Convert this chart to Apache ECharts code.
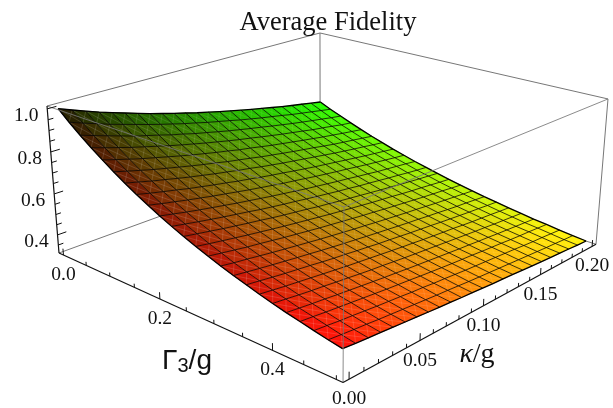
<!DOCTYPE html>
<html>
<head>
<meta charset="utf-8">
<style>html,body{margin:0;padding:0;background:#fff}#chart{width:613px;height:408px}</style>
<script src="https://cdn.jsdelivr.net/npm/echarts@6/dist/echarts.min.js"></script>
</head>
<body>
<div id="chart"></div>
<script>
const gammaGrid = [0,0.0217,0.0435,0.0652,0.087,0.1087,0.1304,0.1522,0.1739,0.1957,0.2174,0.2391,0.2609,0.2826,0.3043,0.3261,0.3478,0.3696,0.3913,0.413,0.4348,0.4565,0.4783,0.5];
const kappaGrid = [0,0.0087,0.0174,0.0261,0.0348,0.0435,0.0522,0.0609,0.0696,0.0783,0.087,0.0957,0.1043,0.113,0.1217,0.1304,0.1391,0.1478,0.1565,0.1652,0.1739,0.1826,0.1913,0.2];

// one row per gammaGrid entry, one column per kappaGrid entry
const fidelity = [
  [1.000,.977,.955,.933,.913,.894,.875,.857,.840,.823,.808,.792,.778,.764,.750,.737,.724,.712,.700,.688,.677,.667,.656,.646],
  [.954,.932,.912,.891,.873,.855,.837,.820,.804,.788,.774,.759,.746,.733,.719,.707,.695,.684,.673,.661,.651,.641,.631,.621],
  [.911,.891,.872,.853,.834,.818,.802,.785,.771,.755,.742,.728,.715,.703,.691,.680,.668,.657,.646,.636,.626,.617,.607,.599],
  [.871,.852,.834,.816,.800,.784,.768,.753,.739,.725,.712,.699,.687,.676,.664,.653,.642,.632,.622,.611,.603,.594,.584,.577],
  [.833,.815,.798,.781,.766,.751,.736,.722,.709,.696,.684,.671,.661,.649,.638,.628,.618,.608,.599,.589,.581,.572,.564,.556],
  [.797,.780,.764,.748,.734,.720,.706,.693,.681,.668,.657,.646,.634,.624,.614,.604,.595,.586,.576,.567,.559,.552,.544,.536],
  [.764,.749,.733,.719,.705,.691,.679,.666,.655,.643,.633,.621,.611,.601,.592,.583,.574,.565,.556,.548,.540,.533,.525,.518],
  [.732,.717,.703,.690,.676,.664,.652,.641,.629,.619,.608,.598,.589,.579,.570,.561,.553,.545,.537,.529,.521,.514,.507,.500],
  [.703,.689,.676,.663,.651,.639,.628,.617,.606,.596,.586,.576,.568,.559,.550,.542,.534,.527,.519,.511,.504,.497,.490,.484],
  [.675,.662,.649,.637,.626,.615,.604,.594,.584,.574,.565,.556,.547,.539,.531,.523,.516,.508,.501,.493,.487,.481,.475,.468],
  [.649,.637,.625,.614,.603,.593,.583,.572,.563,.554,.546,.537,.529,.521,.513,.506,.498,.492,.485,.478,.472,.465,.459,.454],
  [.625,.614,.603,.592,.582,.572,.563,.553,.544,.536,.528,.519,.512,.504,.497,.490,.483,.476,.470,.463,.457,.451,.446,.440],
  [.602,.591,.581,.571,.561,.552,.543,.534,.526,.518,.510,.502,.495,.488,.481,.474,.468,.462,.455,.449,.444,.438,.432,.427],
  [.581,.571,.561,.551,.543,.534,.525,.517,.509,.501,.494,.487,.480,.473,.467,.460,.454,.448,.442,.436,.431,.426,.420,.415],
  [.560,.550,.542,.533,.524,.516,.508,.500,.492,.485,.478,.471,.465,.458,.452,.446,.440,.435,.429,.423,.418,.413,.408,.403],
  [.541,.532,.523,.515,.507,.499,.492,.484,.477,.470,.464,.457,.451,.445,.439,.433,.428,.422,.417,.411,.406,.402,.397,.392],
  [.524,.516,.507,.499,.492,.485,.477,.470,.464,.457,.451,.444,.439,.433,.427,.422,.417,.411,.406,.401,.396,.392,.387,.383],
  [.507,.499,.491,.484,.477,.470,.463,.456,.450,.444,.438,.432,.426,.421,.415,.410,.405,.401,.395,.390,.386,.382,.377,.373],
  [.491,.484,.476,.469,.463,.456,.450,.443,.437,.432,.426,.420,.415,.410,.405,.400,.395,.390,.385,.381,.376,.372,.368,.364],
  [.476,.469,.462,.456,.449,.443,.437,.431,.425,.420,.414,.409,.404,.399,.394,.389,.385,.380,.376,.371,.367,.363,.359,.355],
  [.463,.457,.450,.444,.438,.432,.426,.420,.415,.410,.404,.399,.394,.389,.385,.381,.376,.372,.368,.363,.359,.356,.352,.348],
  [.450,.444,.437,.432,.426,.420,.415,.410,.404,.400,.394,.390,.385,.380,.376,.372,.368,.364,.360,.355,.351,.348,.344,.340],
  [.437,.431,.425,.420,.414,.409,.404,.399,.394,.389,.385,.380,.375,.371,.367,.363,.359,.355,.351,.347,.343,.340,.336,.333],
  [.426,.420,.415,.410,.405,.400,.395,.390,.385,.381,.376,.372,.368,.363,.360,.356,.352,.348,.344,.340,.337,.334,.330,.327]
];

const gammaTicks = [0,0.05,0.1,0.15,0.2,0.25,0.3,0.35,0.4,0.45,0.5];
const gammaLabels = ["0.0","0.2","0.4"];
const kappaTicks = [0,0.01,0.02,0.03,0.04,0.05,0.06,0.07,0.08,0.09,0.1,0.11,0.12,0.13,0.14,0.15,0.16,0.17,0.18,0.19,0.2];
const kappaLabels = ["0.00","0.05","0.10","0.15","0.20"];
const zTicks = [0.35,0.4,0.45,0.5,0.55,0.6,0.65,0.7,0.75,0.8,0.85,0.9,0.95,1.0];
const zLabels = ["0.4","0.6","0.8","1.0"];

// plot box, a little wider than the data
const gammaBox = [-0.01, 0.51];
const kappaBox = [-0.004, 0.204];
const zBox = [0.31, 1.013];

// perspective view of the unit box, fitted to the box corners
function toScreen(u, v, s) {
  const den = 1 - 0.1955 * u + 0.2104 * v + 0.045 * s;
  return [
    (47 + 229.75 * u + 340.3 * v + 14.66 * s) / den,
    (106 + 60.5 * u - 66.06 * v + 158.4 * s) / den
  ];
}

function project(gamma, kappa, z) {
  const u = (gamma - gammaBox[0]) / (gammaBox[1] - gammaBox[0]);
  const v = (kappa - kappaBox[0]) / (kappaBox[1] - kappaBox[0]);
  const s = (zBox[1] - z) / (zBox[1] - zBox[0]);
  return toScreen(u, v, s);
}

function cellFractions(i, j) {
  return [(gammaGrid[i] + gammaGrid[i + 1]) / 2 / 0.5, (kappaGrid[j] + kappaGrid[j + 1]) / 2 / 0.2];
}

function cellColor(i, j) {
  const [r, g] = cellFractions(i, j);
  const lift = 18 * Math.min(r, g) + 14 * r * (1 - g);
  return "rgb(" + Math.round(Math.min(255, 28 + 227 * Math.pow(r, 0.78) + lift)) + ","
    + Math.round(Math.min(255, 22 * (1 - 0.7 * r) + 233 * Math.pow(g, 0.78) + lift * 0.2)) + ","
    + Math.round(lift * 0.7) + ")";
}

const gMin = gammaBox[0], gMax = gammaBox[1], kMin = kappaBox[0], kMax = kappaBox[1], zMin = zBox[0], zMax = zBox[1];

const backEdges = [
  [gMin, kMax, zMax, gMin, kMax, zMin],
  [gMin, kMin, zMin, gMin, kMax, zMin],
  [gMax, kMax, zMin, gMin, kMax, zMin],
  [gMin, kMin, zMax, gMin, kMax, zMax],
  [gMin, kMax, zMax, gMax, kMax, zMax],
  [gMax, kMax, zMax, gMax, kMax, zMin]
];
const frontEdges = [
  [gMin, kMin, zMax, gMax, kMin, zMax],
  [gMax, kMin, zMax, gMax, kMax, zMax],
  [gMax, kMin, zMax, gMax, kMin, zMin]
];
const axisEdges = [
  [gMin, kMin, zMax, gMin, kMin, zMin],
  [gMin, kMin, zMin, gMax, kMin, zMin],
  [gMax, kMin, zMin, gMax, kMax, zMin]
];

function edgeSeries(edges, color, width, opacity) {
  return {
    type: "custom",
    coordinateSystem: "none",
    silent: true,
    animation: false,
    data: edges,
    renderItem: (params, api) => {
      const e = edges[params.dataIndex];
      const a = project(e[0], e[1], e[2]);
      const b = project(e[3], e[4], e[5]);
      return {
        type: "line",
        shape: { x1: a[0], y1: a[1], x2: b[0], y2: b[1] },
        style: { stroke: color, lineWidth: width, opacity: opacity }
      };
    }
  };
}

const cells = [];
for (let i = 0; i < gammaGrid.length - 1; i++) {
  for (let j = 0; j < kappaGrid.length - 1; j++) {
    cells.push([i, j]);
  }
}

const surfaceSeries = {
  type: "custom",
  coordinateSystem: "none",
  silent: true,
  animation: false,
  data: cells,
  renderItem: (params) => {
    const [i, j] = cells[params.dataIndex];
    const p = [
      project(gammaGrid[i], kappaGrid[j], fidelity[i][j]),
      project(gammaGrid[i + 1], kappaGrid[j], fidelity[i + 1][j]),
      project(gammaGrid[i + 1], kappaGrid[j + 1], fidelity[i + 1][j + 1]),
      project(gammaGrid[i], kappaGrid[j + 1], fidelity[i][j + 1])
    ];
    const fill = cellColor(i, j);
    // faint seams between the polygons, stronger on the red side
    const seam = "rgba(255,255,255," + (0.06 + 0.12 * (1 - cellFractions(i, j)[1])).toFixed(3) + ")";
    return {
      type: "group",
      children: [
        { type: "polygon", shape: { points: p }, style: { fill: fill, stroke: fill, lineWidth: 0.5 } },
        { type: "line", shape: { x1: p[0][0], y1: p[0][1], x2: p[2][0], y2: p[2][1] }, style: { stroke: seam, lineWidth: 0.8 } },
        { type: "line", shape: { x1: p[1][0], y1: p[1][1], x2: p[3][0], y2: p[3][1] }, style: { stroke: seam, lineWidth: 0.8 } }
      ]
    };
  }
};

// mesh lines, then the heavier outline of the surface
const meshLines = [];
gammaGrid.forEach((g, i) => {
  meshLines.push(kappaGrid.map((k, j) => project(g, k, fidelity[i][j])));
});
kappaGrid.forEach((k, j) => {
  meshLines.push(gammaGrid.map((g, i) => project(g, k, fidelity[i][j])));
});
const lastGamma = gammaGrid.length - 1;
const outlineIndex = [0, lastGamma, lastGamma + 1, lastGamma + kappaGrid.length];

const meshSeries = {
  type: "custom",
  coordinateSystem: "none",
  silent: true,
  animation: false,
  data: meshLines.map((l, n) => n),
  renderItem: (params) => {
    const n = params.dataIndex;
    const edge = outlineIndex.includes(n);
    return {
      type: "polyline",
      shape: { points: meshLines[n] },
      style: { fill: null, stroke: "#000", lineWidth: edge ? 1.3 : 0.85, opacity: edge ? 1 : 0.9 }
    };
  }
};

const tickItems = [];
gammaTicks.forEach((t, n) => {
  const len = n % 4 === 0 ? 0.045 : 0.025;
  tickItems.push([t, kMin, zMin, t, kMin, zMin + len * (zMax - zMin)]);
});
kappaTicks.forEach((t, n) => {
  const len = n % 5 === 0 ? 0.045 : 0.025;
  tickItems.push([gMax, t, zMin, gMax, t, zMin + len * (zMax - zMin)]);
});
zTicks.forEach((t, n) => {
  const len = (n + 1) % 4 === 2 ? 0.028 : 0.016;
  tickItems.push([gMin, kMin, t, gMin, kMin + len * (kMax - kMin), t]);
});

const labelItems = [];
gammaLabels.forEach((s) => {
  const p = project(+s, kMin, zMin);
  labelItems.push([s, p[0], p[1] + 20]);
});
kappaLabels.forEach((s) => {
  const p = project(gMax, +s, zMin);
  labelItems.push([s, p[0], p[1] + 20]);
});
zLabels.forEach((s) => {
  const p = project(gMin, kMin, +s);
  labelItems.push([s, p[0] - 21, p[1] + 7]);
});

const labelSeries = {
  type: "custom",
  coordinateSystem: "none",
  silent: true,
  animation: false,
  data: labelItems.map((l, n) => n),
  renderItem: (params) => {
    const l = labelItems[params.dataIndex];
    return {
      type: "text",
      style: {
        text: l[0], x: l[1], y: l[2], fill: "#111",
        font: '19.5px "Liberation Serif"', align: "center", verticalAlign: "middle"
      }
    };
  }
};

const axisNameSeries = {
  type: "custom",
  coordinateSystem: "none",
  silent: true,
  animation: false,
  data: [0, 1],
  renderItem: (params) => {
    if (params.dataIndex === 0) {
      return {
        type: "text",
        style: {
          text: "{a|Γ}{b|3}{a|/g}", x: 187, y: 361, align: "center", verticalAlign: "middle",
          rich: {
            a: { font: '28px "Liberation Sans"', fill: "#111" },
            b: { font: '20px "Liberation Sans"', fill: "#111", verticalAlign: "bottom", padding: [10, 0, 0, 0] }
          }
        }
      };
    }
    return {
      type: "text",
      style: {
        text: "{k|κ}{a|/g}", x: 477, y: 355, align: "center", verticalAlign: "middle",
        rich: {
          k: { font: 'italic 28px "Liberation Serif"', fill: "#111" },
          a: { font: '28px "Liberation Serif"', fill: "#111" }
        }
      }
    };
  }
};

const chart = echarts.init(document.getElementById("chart"), null, { renderer: "canvas" });
chart.setOption({
  animation: false,
  backgroundColor: "#fff",
  title: {
    text: "Average Fidelity",
    left: 323,
    top: 5,
    textAlign: "center",
    textStyle: { fontFamily: "Liberation Serif", fontSize: 26.5, fontWeight: "normal", color: "#111" }
  },
  series: [
    edgeSeries(backEdges, "#777", 1, 1),
    surfaceSeries,
    meshSeries,
    edgeSeries(frontEdges, "#777", 1, 0.85),
    edgeSeries(axisEdges, "#111", 1.2, 1),
    edgeSeries(tickItems, "#111", 1, 1),
    labelSeries,
    axisNameSeries
  ]
});
</script>
</body>
</html>
